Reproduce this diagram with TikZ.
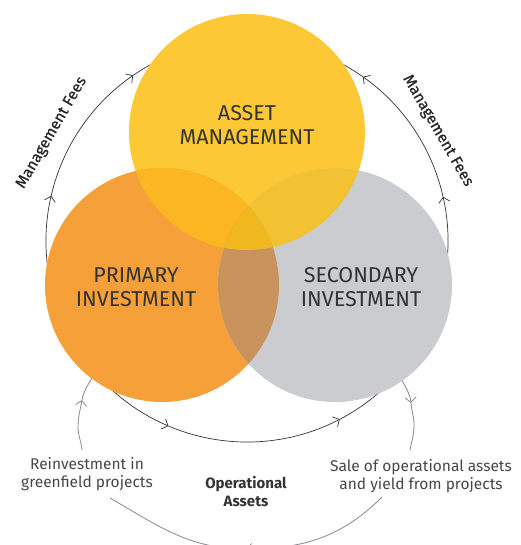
\documentclass[tikz,border=0pt]{standalone}
\usepackage{fontspec}
\setmainfont{Fira Sans}
\usetikzlibrary{arrows.meta,calc}

\definecolor{yelC}{HTML}{FDC835}
\definecolor{oraC}{HTML}{F6A03A}
\definecolor{greC}{HTML}{CBCCCF}
\definecolor{yoC}{HTML}{FBB622}
\definecolor{ygC}{HTML}{F3C232}
\definecolor{ogC}{HTML}{C8935C}
\definecolor{yogC}{HTML}{F2B81F}
\definecolor{cycC}{HTML}{333333}
\definecolor{loopC}{HTML}{8C8E93}
\definecolor{txtC}{HTML}{333333}

\tikzset{
  >={Straight Barb[length=5pt,width=11pt]},
  cycleline/.style={draw=cycC, line width=0.7pt},
  loopline/.style={draw=loopC, line width=0.85pt},
  biglabel/.style={align=center, text=txtC, font=\fontsize{21.5}{24}\selectfont},
  feelabel/.style={text=black!85, font=\fontsize{15.5}{16}\selectfont\addfontfeature{FakeBold=0.6}},
  smalllabel/.style={align=center, text=txtC!90, font=\fontsize{15.5}{18}\selectfont},
  boldlabel/.style={align=center, text=txtC, font=\bfseries\fontsize{15}{18}\selectfont},
}

\begin{document}
\begin{tikzpicture}[x=1pt,y=1pt]
\useasboundingbox (0,0) rectangle (520,-545);

\coordinate (C) at (247,-241);
\coordinate (cY) at (247,-132);
\coordinate (cO) at (162,-285);
\coordinate (cG) at (335,-285);

% outer flow circle behind the three sectors, in arrowed pieces
\draw[cycleline,->] (C) ++(-30:201) arc[start angle=-30, end angle=12.7, radius=201];
\draw[cycleline,->] (C) ++(12.7:201) arc[start angle=12.7, end angle=54.8, radius=201];
\draw[cycleline] (C) ++(54.8:201) arc[start angle=54.8, end angle=124.5, radius=201];
\draw[cycleline,->] (C) ++(167:201) arc[start angle=167, end angle=124.5, radius=201];
\draw[cycleline,->] (C) ++(210:201) arc[start angle=210, end angle=167, radius=201];
\draw[cycleline,->] (C) ++(210:201) arc[start angle=210, end angle=247, radius=201];
\draw[cycleline,->] (C) ++(247:201) arc[start angle=247, end angle=297.5, radius=201];
\draw[cycleline] (C) ++(297.5:201) arc[start angle=297.5, end angle=330, radius=201];

% lower loop: reinvestment and sale of operational assets
\coordinate (lA) at (82,-450);
\coordinate (lB) at (82,-400);
\coordinate (lC) at (92,-378);
\draw[loopline,->] (lA) to[out=95, in=-90] (78,-427) to[out=90, in=-100] (lB);
\draw[loopline] (lB) to[out=80, in=-120] (lC);
\coordinate (rA) at (402,-380);
\coordinate (rB) at (411,-403);
\coordinate (rC) at (410,-450);
\draw[loopline,->] (rA) to[out=-65, in=95] (rB);
\draw[loopline] (rB) to[out=-85, in=90] (414,-425) to[out=-90, in=80] (rC);
\coordinate (bA) at (382,-497);
\coordinate (bB) at (246,-549);
\coordinate (bC) at (110,-498);
\draw[loopline,->] (bA) to[out=-135, in=0] (bB);
\draw[loopline] (bB) to[out=180, in=-30] (bC);

% the three sectors
\fill[yelC] (cY) circle[radius=118];
\fill[oraC] (cO) circle[radius=117];
\fill[greC] (cG) circle[radius=117];
\begin{scope}
  \clip (cO) circle[radius=117];
  \fill[yoC] (cY) circle[radius=118];
\end{scope}
\begin{scope}
  \clip (cG) circle[radius=117];
  \fill[ygC] (cY) circle[radius=118];
\end{scope}
\begin{scope}
  \clip (cO) circle[radius=117];
  \fill[ogC] (cG) circle[radius=117];
\end{scope}
\begin{scope}
  \clip (cO) circle[radius=117];
  \clip (cG) circle[radius=117];
  \fill[yogC] (cY) circle[radius=118];
\end{scope}

% sector titles
\node[biglabel] (asset) at (247,-125) {ASSET\\MANAGEMENT};
\node[biglabel] (primary) at (136,-287) {PRIMARY\\INVESTMENT};
\node[biglabel] (secondary) at (361,-287) {SECONDARY\\INVESTMENT};

% fee labels along the outer circle
\node[feelabel, rotate=60] (feeL) at ($(C)+(151:223)$) {Management Fees};
\node[feelabel, rotate=-60] (feeR) at ($(C)+(30:220)$) {Management Fees};

% lower labels
\node[smalllabel] (reinv) at (87,-474) {Reinvestment in\\greenfield projects};
\node[boldlabel] (opas) at (246,-492) {Operational\\Assets};
\node[smalllabel] (sale) at (421,-476) {Sale of operational assets\\and yield from projects};
\end{tikzpicture}
\end{document}
